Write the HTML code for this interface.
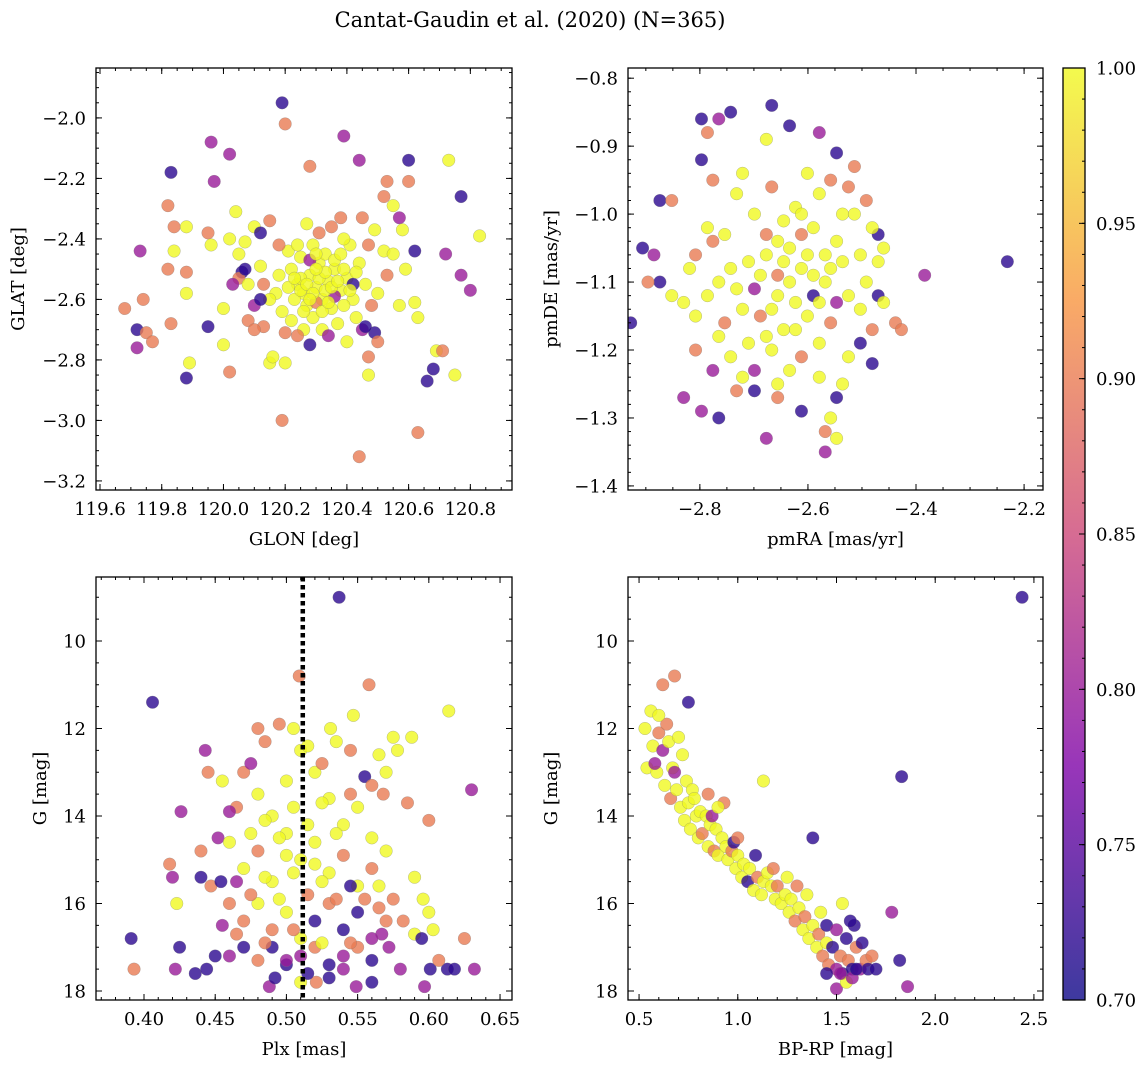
<!DOCTYPE html>
<html><head><meta charset="utf-8"><style>
body{margin:0;background:#fff;}
svg{display:block;font-family:"DejaVu Serif","Liberation Serif",serif;}
</style></head><body>
<svg id="fig" width="1148" height="1067" viewBox="0 0 1148 1067">
<defs><linearGradient id="plasma" x1="0" y1="1" x2="0" y2="0">
<stop offset="0" stop-color="#0d0887"/><stop offset="0.25" stop-color="#7e03a8"/><stop offset="0.5" stop-color="#cc4778"/><stop offset="0.75" stop-color="#f89540"/><stop offset="1" stop-color="#f0f921"/></linearGradient></defs>
<text x="530" y="27" font-size="21" text-anchor="middle">Cantat-Gaudin et al. (2020) (N=365)</text>
</svg>
<script>
const posData = [[119.68,-2.63,0.9],[119.72,-2.70,0.72],[119.72,-2.76,0.8],[119.73,-2.44,0.8],[119.74,-2.60,0.9],[119.75,-2.71,0.9],[119.77,-2.74,0.9],[119.83,-2.18,0.72],[119.82,-2.29,0.9],[119.82,-2.50,0.9],[119.83,-2.68,0.9],[119.84,-2.44,1],[119.84,-2.36,0.9],[119.88,-2.51,0.9],[119.88,-2.58,1],[119.88,-2.86,0.72],[119.89,-2.81,1],[119.88,-2.36,1],[119.96,-2.08,0.8],[119.95,-2.69,0.72],[119.95,-2.38,0.9],[119.96,-2.42,1],[119.97,-2.21,0.8],[120.0,-2.75,1],[120.02,-2.12,0.8],[120.02,-2.84,0.9],[120.04,-2.31,1],[120.06,-2.51,0.72],[120.07,-2.41,1],[120.1,-2.36,1],[120.12,-2.38,0.72],[120.15,-2.81,1],[120.16,-2.79,1],[120.15,-2.34,0.9],[120.19,-1.95,0.72],[120.2,-2.02,0.9],[120.19,-3.0,0.9],[120.2,-2.81,1],[120.28,-2.16,0.9],[120.28,-2.75,0.72],[120.39,-2.06,0.8],[120.44,-2.14,0.8],[120.44,-3.12,0.9],[120.47,-2.85,1],[120.47,-2.79,0.9],[120.52,-2.26,0.9],[120.53,-2.21,0.9],[120.6,-2.14,0.72],[120.6,-2.21,0.9],[120.63,-3.04,0.9],[120.66,-2.87,0.72],[120.68,-2.83,0.72],[120.69,-2.77,1],[120.71,-2.77,0.9],[120.73,-2.14,1],[120.72,-2.45,0.8],[120.75,-2.85,1],[120.77,-2.26,0.72],[120.77,-2.52,0.8],[120.8,-2.57,0.8],[120.83,-2.39,1],[120.62,-2.44,0.72],[120.62,-2.61,1],[120.63,-2.66,1],[120.57,-2.33,0.8],[120.58,-2.37,1],[120.59,-2.5,1],[120.55,-2.29,1],[120.49,-2.71,0.72],[120.5,-2.74,0.9],[120.45,-2.7,0.8],[120.08,-2.67,0.9],[120.1,-2.62,0.8],[120.13,-2.69,0.9],
[120.22,-2.50,1],[120.24,-2.55,1],[120.26,-2.58,1],[120.28,-2.52,1],[120.30,-2.56,1],[120.32,-2.60,1],[120.34,-2.54,1],[120.36,-2.50,1],[120.38,-2.57,1],[120.40,-2.53,1],[120.27,-2.62,1],[120.29,-2.66,1],[120.31,-2.48,1],[120.33,-2.45,1],[120.35,-2.63,1],[120.37,-2.68,1],[120.25,-2.46,1],[120.23,-2.60,1],[120.21,-2.56,1],[120.19,-2.64,1],[120.18,-2.52,1],[120.42,-2.60,1],[120.44,-2.48,1],[120.46,-2.55,1],[120.41,-2.42,1],[120.29,-2.42,1],[120.27,-2.35,1],[120.31,-2.38,0.9],[120.35,-2.36,0.9],[120.39,-2.40,1],[120.43,-2.66,1],[120.32,-2.70,1],[120.26,-2.70,1],[120.22,-2.67,1],[120.17,-2.58,1],[120.15,-2.60,1],[120.13,-2.55,0.9],[120.12,-2.49,1],[120.05,-2.53,0.9],[120.08,-2.55,1],[120.48,-2.62,0.9],[120.50,-2.58,1],[120.52,-2.44,1],[120.47,-2.42,0.9],[120.49,-2.37,1],[120.45,-2.33,0.9],[120.38,-2.33,0.9],[120.34,-2.72,0.8],[120.40,-2.74,1],[120.24,-2.72,0.9],[120.20,-2.71,0.9],[120.30,-2.61,0.9],[120.36,-2.59,0.8],[120.28,-2.47,0.8],[120.33,-2.57,1],[120.25,-2.53,1],[120.39,-2.62,1],[120.21,-2.44,1],[120.18,-2.42,0.9],[120.42,-2.55,0.72],[120.12,-2.60,0.72],[120.07,-2.50,0.72],[120.55,-2.45,1],[120.53,-2.52,0.9],[120.57,-2.62,1],[120.46,-2.69,0.72],[120.02,-2.40,1],[120.05,-2.45,1],[120.00,-2.63,1],[120.03,-2.55,0.8],[120.10,-2.70,0.9],
[120.25,-2.57,1],[120.27,-2.55,1],[120.29,-2.58,1],[120.31,-2.53,1],[120.33,-2.51,1],[120.35,-2.56,1],[120.37,-2.54,1],[120.30,-2.50,1],[120.32,-2.64,1],[120.28,-2.60,1],[120.34,-2.61,1],[120.26,-2.64,1],[120.36,-2.47,1],[120.23,-2.53,1],[120.39,-2.50,1],[120.41,-2.57,1],[120.24,-2.42,1],[120.30,-2.45,1],[120.38,-2.45,1],[120.43,-2.51,1]];
const pmData = [[-2.928,-1.16,0.72],[-2.906,-1.05,0.72],[-2.885,-1.06,0.8],[-2.874,-1.1,0.72],[-2.874,-0.98,0.72],[-2.896,-1.10,0.9],[-2.852,-1.12,1],[-2.830,-1.27,0.8],[-2.797,-0.86,0.72],[-2.797,-0.92,0.72],[-2.786,-0.88,0.9],[-2.776,-0.95,0.9],[-2.765,-0.86,0.8],[-2.743,-0.85,0.72],[-2.765,-1.30,0.72],[-2.797,-1.29,0.8],[-2.776,-1.23,0.8],[-2.808,-1.20,0.9],[-2.667,-0.84,0.72],[-2.634,-0.87,0.72],[-2.677,-0.89,1],[-2.579,-0.88,0.8],[-2.547,-0.91,0.72],[-2.514,-0.93,0.9],[-2.470,-1.03,0.72],[-2.470,-1.12,0.72],[-2.481,-1.22,0.72],[-2.438,-1.16,0.9],[-2.427,-1.17,0.9],[-2.384,-1.09,0.8],[-2.231,-1.07,0.72],[-2.568,-1.35,0.8],[-2.558,-1.30,1],[-2.547,-1.33,1],[-2.568,-1.32,0.9],[-2.677,-1.33,0.8],[-2.612,-1.29,0.72],[-2.656,-1.27,0.9],[-2.699,-1.26,0.72],[-2.732,-1.26,0.9],[-2.721,-1.24,1],[-2.547,-1.27,0.72],[-2.536,-1.25,1],[-2.503,-1.19,0.72],[-2.481,-1.17,0.9],[-2.852,-0.98,0.9],[-2.808,-1.06,0.9],
[-2.634,-1.05,1],[-2.612,-1.08,1],[-2.590,-1.02,1],[-2.568,-1.10,1],[-2.656,-1.12,1],[-2.677,-1.06,1],[-2.699,-1.00,1],[-2.721,-1.14,1],[-2.743,-1.08,1],[-2.547,-1.04,1],[-2.525,-1.12,1],[-2.503,-1.06,1],[-2.579,-0.97,1],[-2.601,-0.94,1],[-2.558,-0.95,0.9],[-2.623,-0.99,1],[-2.645,-1.17,1],[-2.667,-1.20,1],[-2.688,-1.15,0.9],[-2.765,-1.18,1],[-2.786,-1.12,1],[-2.754,-1.03,1],[-2.732,-0.97,1],[-2.710,-1.19,1],[-2.601,-1.15,1],[-2.579,-1.19,1],[-2.558,-1.16,0.9],[-2.536,-1.00,1],[-2.514,-1.00,1],[-2.492,-1.10,1],[-2.470,-1.07,1],[-2.634,-1.23,1],[-2.612,-1.21,0.9],[-2.656,-1.09,0.9],[-2.699,-1.11,0.8],[-2.590,-1.12,0.72],[-2.547,-1.13,0.8],[-2.677,-1.03,0.9],[-2.743,-1.21,1],[-2.765,-1.10,1],[-2.808,-1.15,1],[-2.786,-1.02,1],[-2.503,-1.14,1],[-2.481,-1.02,1],[-2.525,-0.96,0.9],[-2.623,-1.13,1],[-2.645,-1.01,1],[-2.568,-1.06,1],[-2.710,-1.07,1],[-2.667,-0.96,0.9],[-2.612,-1.03,0.9],[-2.754,-1.16,0.9],[-2.492,-0.98,0.9],[-2.460,-1.05,1],[-2.460,-1.13,1],[-2.721,-0.94,1],[-2.776,-1.04,0.9],[-2.656,-1.25,1],[-2.579,-1.24,1],[-2.699,-1.23,0.8],[-2.819,-1.08,1],[-2.830,-1.13,1],[-2.525,-1.21,1],
[-2.634,-1.10,1],[-2.601,-1.06,1],[-2.579,-1.13,1],[-2.667,-1.14,1],[-2.688,-1.09,1],[-2.623,-1.17,1],[-2.558,-1.08,1],[-2.645,-1.07,1],[-2.590,-1.09,1],[-2.677,-1.18,1],[-2.732,-1.11,1],[-2.536,-1.07,1],[-2.612,-1.00,1],[-2.656,-1.04,1]];
const plxData = [[0.537,9.0,0.72],[0.406,11.4,0.72],[0.509,10.8,0.9],[0.558,11.0,0.9],[0.614,11.6,1],[0.630,13.4,0.8],[0.391,16.8,0.72],[0.393,17.5,0.9],[0.422,17.5,0.8],[0.425,17.0,0.72],[0.436,17.6,0.72],[0.444,17.5,0.72],[0.420,15.4,0.8],[0.418,15.1,0.9],[0.423,16.0,1],[0.426,13.9,0.8],[0.443,12.5,0.8],[0.445,13.0,0.9],[0.44,14.8,0.9],[0.44,15.4,0.72],[0.447,15.6,0.9],[0.452,14.5,0.8],[0.454,15.5,0.72],[0.488,17.9,0.8],[0.492,17.7,0.72],[0.510,17.8,1],[0.521,17.8,0.9],[0.549,17.9,0.8],[0.56,17.8,0.72],[0.597,17.9,0.8],[0.601,17.5,0.72],[0.613,17.5,0.72],[0.618,17.5,0.72],[0.632,17.5,0.8],[0.625,16.8,0.9],[0.607,17.3,0.9],[0.58,17.5,0.8],[0.6,14.1,0.9],[0.588,12.2,1],[0.578,12.5,1],[0.575,12.2,1],[0.585,13.7,0.9],[0.555,13.1,0.72],[0.568,13.5,0.9],[0.547,11.7,1],[0.531,12.0,1],[0.59,15.4,1],[0.6,16.2,1],[0.596,15.9,1],[0.582,16.4,0.9],[0.575,15.9,0.9],[0.567,16.7,0.8],[0.572,17.0,0.8],[0.59,16.7,1],[0.595,16.8,0.72],[0.603,16.6,1],
[0.47,13.0,0.9],[0.48,13.5,1],[0.49,14.0,1],[0.50,13.2,1],[0.51,12.5,1],[0.52,13.0,1],[0.53,13.6,1],[0.54,14.2,1],[0.55,13.8,1],[0.56,14.5,1],[0.46,14.6,1],[0.47,15.2,1],[0.48,14.8,0.9],[0.49,15.5,1],[0.50,14.4,1],[0.51,15.0,1],[0.52,14.6,1],[0.53,15.3,1],[0.54,14.9,0.9],[0.55,15.6,1],[0.56,15.2,0.9],[0.57,14.8,1],[0.46,16.0,0.9],[0.47,16.4,0.9],[0.48,16.0,1],[0.49,16.6,0.9],[0.50,16.2,1],[0.51,16.8,1],[0.52,16.4,0.72],[0.53,16.0,0.9],[0.54,16.6,0.72],[0.55,16.2,0.72],[0.56,16.8,0.8],[0.57,16.4,0.9],[0.46,17.2,0.8],[0.47,17.0,0.72],[0.48,17.3,0.9],[0.49,17.0,0.72],[0.50,17.4,0.72],[0.51,17.2,0.8],[0.52,17.0,0.9],[0.53,17.4,0.72],[0.54,17.2,0.8],[0.55,17.0,0.9],[0.56,17.3,0.72],[0.475,12.8,0.8],[0.485,12.3,0.9],[0.495,11.9,0.9],[0.505,12.0,1],[0.515,12.4,1],[0.525,12.8,0.9],[0.535,12.3,1],[0.545,12.5,0.9],[0.505,13.8,1],[0.515,14.2,1],[0.525,13.7,1],[0.535,14.4,1],[0.545,13.5,0.9],[0.495,14.5,1],[0.485,14.1,1],[0.475,14.4,1],[0.465,13.8,0.9],[0.455,13.2,1],[0.465,15.5,0.8],[0.475,15.8,0.9],[0.485,15.4,1],[0.495,15.9,1],[0.505,15.3,1],[0.515,15.8,0.9],[0.525,15.5,1],[0.535,15.9,0.9],[0.545,15.6,0.72],[0.555,15.9,0.9],[0.565,15.6,1],[0.465,16.7,0.9],[0.485,16.9,0.9],[0.505,16.6,0.9],[0.525,16.9,1],[0.545,16.9,0.9],[0.565,16.1,0.9],[0.455,16.5,0.8],[0.45,17.2,0.72],[0.53,17.7,0.72],[0.515,17.6,0.72],[0.5,17.3,0.8],[0.54,17.5,0.8],[0.57,13.0,1],[0.565,12.6,1],[0.56,13.3,0.9],[0.48,12.0,0.9],[0.46,13.9,0.8],[0.5,14.9,1],[0.52,15.1,1]];
const cmdData = [[2.44,9.0,0.72],[1.83,13.1,0.72],[0.62,11.0,0.9],[0.68,10.8,0.9],[0.75,11.4,0.72],[1.78,16.2,0.8],[1.82,17.3,0.72],[1.86,17.9,0.8],[1.5,17.95,0.8],[1.38,14.5,0.72],[0.93,13.7,0.9],[1.13,13.2,1],
[0.53,12.0,1],[0.54,12.9,1],[0.56,11.6,1],[0.57,12.4,1],[0.59,13.0,1],[0.60,12.1,0.9],[0.62,12.5,0.8],[0.63,13.3,1],[0.65,12.3,1],[0.66,13.6,0.9],[0.67,12.9,1],[0.69,13.4,1],[0.70,12.2,1],[0.71,13.8,1],[0.72,12.6,1],[0.73,14.1,1],[0.74,13.2,1],[0.75,13.7,1],[0.76,14.3,1],[0.77,13.4,1],[0.79,14.0,1],[0.80,14.5,1],[0.81,13.9,1],[0.82,14.4,0.9],[0.84,14.0,1],[0.85,14.7,1],[0.86,14.2,1],[0.88,14.8,0.9],[0.89,14.3,1],[0.90,14.9,1],[0.92,14.5,1],[0.94,14.7,1],[0.95,15.0,1],[0.97,14.8,0.9],[0.99,15.2,1],[1.00,14.9,1],[1.02,15.4,1],[1.03,15.1,1],[1.05,15.5,0.72],[1.06,15.2,1],[1.08,15.7,1],[1.10,15.4,0.9],[1.12,15.8,1],[1.13,15.5,1],[1.15,15.3,1],[1.17,15.6,1],[1.19,15.9,1],[1.20,15.6,0.9],[1.22,16.0,1],[1.24,15.8,1],[1.26,16.2,1],[1.27,15.9,1],[1.29,16.4,0.9],[1.31,16.1,1],[1.33,16.6,1],[1.34,16.3,0.9],[1.36,16.8,1],[1.38,16.5,1],[1.40,17.0,1],[1.41,16.7,0.9],[1.43,17.2,0.9],[1.45,16.9,1],[1.46,17.4,0.9],[1.48,17.0,0.72],[1.50,17.5,0.8],[1.52,17.2,0.9],[1.53,17.6,0.72],[1.55,16.8,0.72],[1.56,17.3,0.9],[1.58,17.5,0.72],[1.59,16.5,0.72],[1.60,17.0,0.9],[1.62,17.5,0.8],[1.63,16.9,0.72],[1.65,17.3,0.9],[1.66,17.5,0.72],[1.68,17.2,0.9],[1.70,17.5,0.72],[1.57,16.4,0.72],[1.53,16.0,1],[1.45,16.5,0.72],[1.50,16.6,0.8],[1.42,16.2,1],[1.35,15.8,1],[1.30,15.6,0.9],[1.25,15.4,1],[1.18,15.2,0.9],[1.09,14.9,0.72],[0.98,14.6,0.72],[0.87,14.0,0.8],[0.78,13.6,1],[0.68,13.0,0.8],[0.64,11.9,0.9],[0.58,12.8,0.8],[0.6,11.7,1],[1.55,17.8,1],[1.45,17.6,0.72],[1.52,17.6,0.8],[1.58,17.7,0.8],[1.60,17.5,0.72],[0.9,13.8,1],[0.85,13.5,0.9],[1.0,14.5,0.9]];
const plxMedian = 0.5115;
const ticksGLON = [119.6,119.8,120.0,120.2,120.4,120.6,120.8];
const ticksGLAT = [-2.0,-2.2,-2.4,-2.6,-2.8,-3.0,-3.2];
const ticksPmRA = [-2.8,-2.6,-2.4,-2.2];
const ticksPmDE = [-0.8,-0.9,-1.0,-1.1,-1.2,-1.3,-1.4];
const ticksPlx = [0.40,0.45,0.50,0.55,0.60,0.65];
const ticksG = [10,12,14,16,18];
const ticksBPRP = [0.5,1.0,1.5,2.0,2.5];
const ticksCbar = [0.70,0.75,0.80,0.85,0.90,0.95,1.00];

const NS="http://www.w3.org/2000/svg";
const svg=document.getElementById('fig');
const FS=18;
function mk(tag,attrs,parent){const e=document.createElementNS(NS,tag);for(const k in attrs)e.setAttribute(k,attrs[k]);(parent||svg).appendChild(e);return e;}
const stops=[[0,[13,8,135]],[0.25,[126,3,168]],[0.5,[204,71,120]],[0.75,[248,149,64]],[1,[240,249,33]]];
function cmap(c){let t=Math.max(0,Math.min(1,(c-0.7)/0.3));for(let i=0;i<4;i++){const a=stops[i],b=stops[i+1];if(t<=b[0]){const f=(t-a[0])/(b[0]-a[0]);const r=a[1].map((v,j)=>Math.round(v+(b[1][j]-v)*f));return `rgb(${r})`;}}return 'rgb(240,249,33)';}

function panel(o){
  const g=mk('g',{});
  
  
  const sx=v=>o.x0+(v-o.xmin)/(o.xmax-o.xmin)*(o.x1-o.x0);
  const sy=o.inv? (v=>o.y0+(v-o.ymin)/(o.ymax-o.ymin)*(o.y1-o.y0)) : (v=>o.y0+(o.ymax-v)/(o.ymax-o.ymin)*(o.y1-o.y0));
  const cl='clip'+o.name;
  const cp=mk('clipPath',{id:cl},g);mk('rect',{x:o.x0,y:o.y0,width:o.x1-o.x0,height:o.y1-o.y0},cp);
  const pts=mk('g',{'clip-path':`url(#${cl})`},g);
  
  
  for(const d of o.data){
    const c=mk('circle',{cx:sx(d[0]),cy:sy(d[1]),r:6.3,fill:cmap(d[2]),'fill-opacity':0.8,stroke:'#777','stroke-opacity':0.5,'stroke-width':0.5},pts);
    
    
  }
  if(o.vline!==undefined){
    const l=mk('line',{x1:sx(o.vline),x2:sx(o.vline),y1:o.y0,y2:o.y1,stroke:'#000','stroke-width':4.5,'stroke-dasharray':'4.5 3.5'},g);
    
    
  }
  const fr=mk('rect',{x:o.x0,y:o.y0,width:o.x1-o.x0,height:o.y1-o.y0,fill:'none',stroke:'#000','stroke-width':1.3},g);
  
  
  const tk=(x1,y1,x2,y2)=>mk('line',{x1,y1,x2,y2,stroke:'#000','stroke-width':1},g);
  const mstep=o.xstep/o.xminor;
  for(let v=Math.ceil(o.xmin/mstep)*mstep;v<=o.xmax+1e-9;v+=mstep){const X=sx(v);tk(X,o.y1,X,o.y1-3);tk(X,o.y0,X,o.y0+3);}
  const ystep=o.ystep/o.yminor;
  for(let v=Math.ceil(o.ymin/ystep)*ystep;v<=o.ymax+1e-9;v+=ystep){const Y=sy(v);tk(o.x0,Y,o.x0+3,Y);tk(o.x1,Y,o.x1-3,Y);}
  for(const v of o.xt){const X=sx(v);tk(X,o.y1,X,o.y1-6);tk(X,o.y0,X,o.y0+6);
    const t=mk('text',{x:X,y:o.y1+25,'font-size':FS,'text-anchor':'middle'},g);t.textContent=v.toFixed(o.xd).replace('-','\u2212');
    }
  for(const v of o.yt){const Y=sy(v);tk(o.x0,Y,o.x0+6,Y);tk(o.x1,Y,o.x1-6,Y);
    const t=mk('text',{x:o.x0-10,y:Y+6.5,'font-size':FS,'text-anchor':'end'},g);t.textContent=v.toFixed(o.yd).replace('-','\u2212');
    }
  const xl=mk('text',{x:(o.x0+o.x1)/2,y:o.y1+55,'font-size':FS,'text-anchor':'middle'},g);xl.textContent=o.xlabel;
  
  const yx=o.ylx, yc=(o.y0+o.y1)/2;
  const yl=mk('text',{x:yx,y:yc,'font-size':FS,'text-anchor':'middle',transform:`rotate(-90 ${yx} ${yc})`},g);yl.textContent=o.ylabel;
  
}
panel({name:'glon-glat-panel',data:posData,x0:96,x1:512,y0:68,y1:490,xmin:119.587,xmax:120.935,ymin:-3.23,ymax:-1.835,xt:ticksGLON,yt:ticksGLAT,xd:1,yd:1,xstep:0.2,xminor:4,ystep:0.2,yminor:4,xlabel:'GLON [deg]',ylabel:'GLAT [deg]',ylx:24});
panel({name:'pm-panel',data:pmData,x0:628,x1:1043,y0:68,y1:490,xmin:-2.933,xmax:-2.165,ymin:-1.406,ymax:-0.785,xt:ticksPmRA,yt:ticksPmDE,xd:1,yd:1,xstep:0.2,xminor:4,ystep:0.1,yminor:5,xlabel:'pmRA [mas/yr]',ylabel:'pmDE [mas/yr]',ylx:557});
panel({name:'plx-g-panel',data:plxData,vline:plxMedian,inv:true,x0:96,x1:512,y0:577,y1:1000,xmin:0.3663,xmax:0.6584,ymin:8.537,ymax:18.206,xt:ticksPlx,yt:ticksG,xd:2,yd:0,xstep:0.05,xminor:5,ystep:2,yminor:4,xlabel:'Plx [mas]',ylabel:'G [mag]',ylx:46});
panel({name:'cmd-panel',data:cmdData,inv:true,x0:628,x1:1043,y0:577,y1:1000,xmin:0.444,xmax:2.546,ymin:8.537,ymax:18.206,xt:ticksBPRP,yt:ticksG,xd:1,yd:0,xstep:0.5,xminor:5,ystep:2,yminor:4,xlabel:'BP-RP [mag]',ylabel:'G [mag]',ylx:557});

const cb=mk('g',{});


const cbY0=68, cbY1=1000, cbX0=1063, cbX1=1085, cMin=0.70, cMax=1.00;
const cy=v=>cbY1-(v-cMin)/(cMax-cMin)*(cbY1-cbY0);
mk('rect',{x:cbX0,y:cbY0,width:cbX1-cbX0,height:cbY1-cbY0,fill:'url(#plasma)','fill-opacity':0.8},cb);
mk('rect',{x:cbX0,y:cbY0,width:cbX1-cbX0,height:cbY1-cbY0,fill:'none',stroke:'#000','stroke-width':1.3},cb);
for(let v=cMin;v<=cMax+1e-9;v+=0.01){const Y=cy(v);mk('line',{x1:cbX1,x2:cbX1-3,y1:Y,y2:Y,stroke:'#000'},cb);}
for(const v of ticksCbar){const Y=cy(v);mk('line',{x1:cbX1,x2:cbX1-6,y1:Y,y2:Y,stroke:'#000'},cb);
  const t=mk('text',{x:cbX1+11,y:Y+6.5,'font-size':FS},cb);t.textContent=v.toFixed(2);
  
  }
</script>
</body></html>
